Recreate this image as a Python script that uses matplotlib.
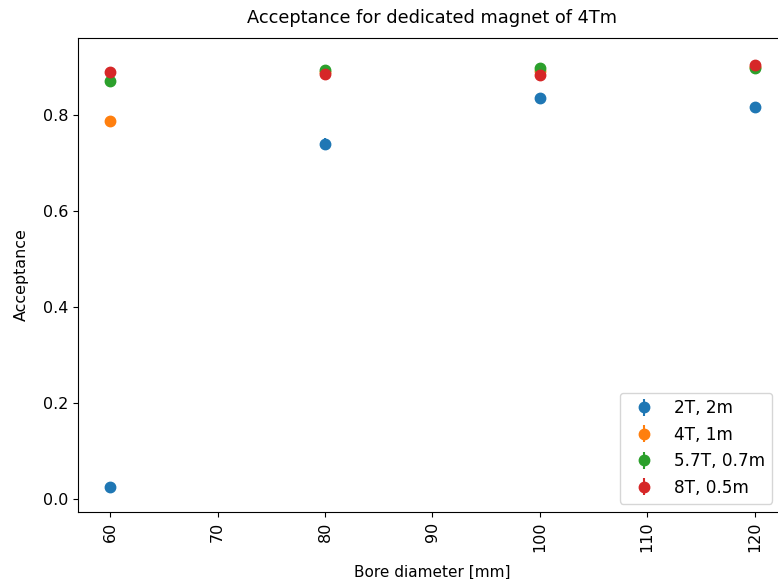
import matplotlib
matplotlib.use("Agg")
import matplotlib.pyplot as plt
import numpy as np

bore = [60, 80, 100, 120]

acc_2T = [0.025, 0.740, 0.835, 0.817]
err_2T = [0.003, 0.012, 0.005, 0.005]

acc_4T = [0.787, 0.890, 0.892, 0.900]
err_4T = [0.004, 0.004, 0.004, 0.004]

acc_57T = [0.871, 0.894, 0.898, 0.898]
err_57T = [0.004, 0.004, 0.004, 0.004]

acc_8T = [0.890, 0.885, 0.883, 0.904]
err_8T = [0.004, 0.004, 0.004, 0.004]

series = [
    ("2T, 2m", acc_2T, err_2T),
    ("4T, 1m", acc_4T, err_4T),
    ("5.7T, 0.7m", acc_57T, err_57T),
    ("8T, 0.5m", acc_8T, err_8T),
]

fig = plt.figure(figsize=(7.78, 5.79), dpi=100)
ax = fig.add_axes([0.1003, 0.1157, 0.911, 0.8187])

for label, y, e in series:
    ax.errorbar(bore, y, yerr=e, fmt="o", markersize=7.5, label=label)

ax.set_xlim(57, 123)
ax.set_ylim(-0.027, 0.96)
ax.set_xticks(np.arange(60, 121, 10))
ax.tick_params(axis="both", labelsize=11.5)
ax.tick_params(axis="x", labelrotation=90)
ax.set_title("Acceptance for dedicated magnet of 4Tm", fontsize=12.8, pad=11)
ax.set_xlabel("Bore diameter [mm]", fontsize=11, labelpad=9)
ax.set_ylabel("Acceptance", fontsize=11.4, labelpad=10)
ax.legend(loc="lower right", bbox_to_anchor=(0.991, 0.0), fontsize=12.2)

fig.savefig("out.png", dpi=100)
